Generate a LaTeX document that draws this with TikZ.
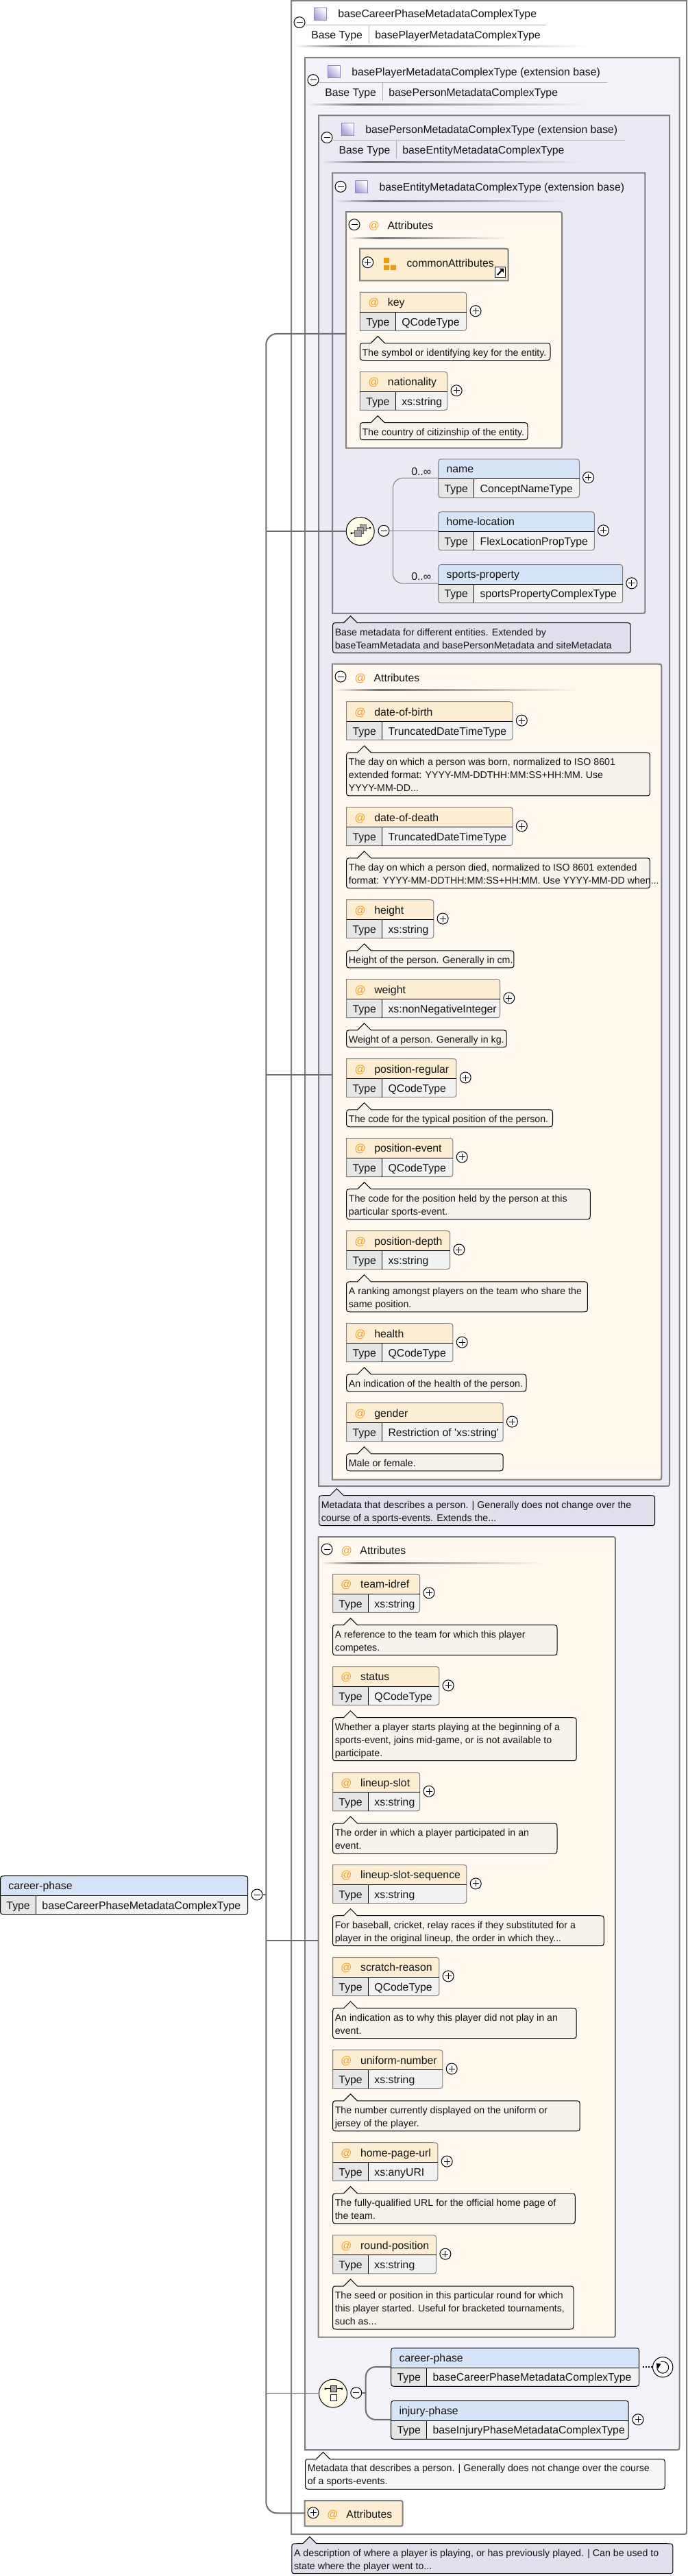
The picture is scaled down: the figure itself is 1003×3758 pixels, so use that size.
\documentclass[tikz,border=0pt]{standalone}
\usepackage{fontspec}
\setmainfont{Liberation Sans}
\definecolor{boxline}{HTML}{808080}
\definecolor{trunkc}{HTML}{6E6E6E}
\definecolor{fillB}{HTML}{F4F3FA}
\definecolor{fillC}{HTML}{EBE9F4}
\definecolor{attrbg}{HTML}{FFF9F0}
\definecolor{attrhd}{HTML}{FDEED3}
\definecolor{elemhd}{HTML}{D6E4F7}
\definecolor{typec}{HTML}{E6E6E6}
\definecolor{valc}{HTML}{F2F2F2}
\definecolor{cmtc}{HTML}{F6F3EC}
\definecolor{cmtp}{HTML}{E3DEEC}
\definecolor{cmtw}{HTML}{F8F7F8}
\definecolor{atc}{HTML}{EDA020}
\definecolor{comp}{HTML}{FFFDE8}
\definecolor{icond}{HTML}{A99FD6}
\definecolor{iconl}{HTML}{8F84BC}
\definecolor{orng}{HTML}{F09C12}
\tikzset{
  lbl/.style={font=\fontsize{11.85}{14}\selectfont,inner sep=0pt,anchor=base west,text=black!92},
  atlbl/.style={lbl,text=atc},
  cmt/.style={font=\fontsize{10.65}{14.25}\selectfont,align=left,inner sep=0pt,anchor=north west,text=black!92},
  ctl/.style={circle,draw=black,fill=white,line width=0.75pt,minimum size=12pt,inner sep=0pt},
  boxl/.style={draw=boxline,line width=1.5pt},
  trunk/.style={draw=trunkc,line width=1.5pt},
  thinl/.style={draw=boxline,line width=0.8pt},
  bracketl/.style={draw=trunkc,line width=1.5pt},
  thinb/.style={line width=0.75pt,draw=black},
  comps/.style={circle,draw=black,fill=comp,line width=0.75pt,minimum size=30.75pt,inner sep=0pt},
}
% control circle: name, x, y
\newcommand{\ctlplus}[3]{\node[ctl] (#1) at (#2,#3) {};
  \draw[thinb] (#2-4.5,#3) -- (#2+4.5,#3); \draw[thinb] (#2,#3-4.5) -- (#2,#3+4.5);}
\newcommand{\ctlminus}[3]{\node[ctl] (#1) at (#2,#3) {};
  \draw[thinb] (#2-4.5,#3) -- (#2+4.5,#3);}
% gradient rule: x1,x2,y,background
\newcommand{\shline}[4]{%
  \shade[left color=#4,right color=black!55] (#1,#3-1) rectangle ({#1+0.18*(#2-#1)},#3+1);
  \shade[left color=black!55,right color=#4] ({#1+0.18*(#2-#1)},#3-1) rectangle (#2,#3+1);}
% purple icon
\newcommand{\purple}[3]{\shade[draw=iconl,line width=0.6pt,left color=white,right color=icond,shading angle=-45] (#2,#3) rectangle (#2+18,#3+18);\coordinate (#1) at (#2+9,#3+9);}
% boxes with a rounded lower right corner: x1,y1,x2,y2,fill
\newcommand{\bigbox}[5]{\path[boxl,fill=#5] (#1,#2) -- (#3,#2) -- (#3,#4-6) .. controls (#3,#4) .. (#3-6,#4) -- (#1,#4) -- cycle;}
% both right corners rounded
\newcommand{\tabbox}[5]{\path[boxl,fill=#5] (#1,#2) -- (#3-6,#2) .. controls (#3,#2) .. (#3,#2+6) -- (#3,#4-6) .. controls (#3,#4) .. (#3-6,#4) -- (#1,#4) -- cycle;}
% comment: id,L,top,R,lines,fill,text
\newcommand{\cmtbox}[7]{%
  \pgfmathsetmacro\cb{#3+25+19*(#5-1)}%
  \path[fill=#6,draw=black,line width=0.75pt] (#2+8,#3) -- (#2+16,#3) -- (#2+26,#3-10) -- (#2+36,#3) -- (#4-8,#3) .. controls (#4,#3) .. (#4,#3+8) -- (#4,\cb-8) .. controls (#4,\cb) .. (#4-8,\cb) -- (#2+8,\cb) .. controls (#2,\cb) .. (#2,\cb-8) -- (#2,#3+8) .. controls (#2,#3) .. (#2+8,#3) -- cycle;
  \node[cmt] (#1) at (#2+3,#3+5) {\strut #7};}
% attribute: id,L,T,R,name,type,commentR,lines,text
\newcommand{\attrel}[9]{%
  \fill[attrhd] (#2,#3+29) -- (#2,#3) -- (#4-8,#3) .. controls (#4,#3) .. (#4,#3+8) -- (#4,#3+29) -- cycle;
  \fill[typec] (#2,#3+29) rectangle (#2+52,#3+56);
  \fill[valc] (#2+52,#3+29) -- (#4,#3+29) -- (#4,#3+48) .. controls (#4,#3+56) .. (#4-8,#3+56) -- (#2+52,#3+56) -- cycle;
  \draw[boxline,line width=0.75pt] (#2,#3) -- (#4-8,#3) .. controls (#4,#3) .. (#4,#3+8) -- (#4,#3+48) .. controls (#4,#3+56) .. (#4-8,#3+56) -- (#2,#3+56) -- cycle;
  \draw[thinb] (#2,#3+29) -- (#4,#3+29); \draw[thinb] (#2+52,#3+29) -- (#2+52,#3+56);
  \node[atlbl] (#1-at) at (#2+11.7,#3+20.4) {@};
  \node[lbl] (#1-name) at (#2+40.4,#3+20.4) {#5};
  \node[lbl] (#1-tl) at (#2+8.7,#3+48.7) {Type};
  \node[lbl] (#1-tv) at (#2+60.7,#3+48.7) {#6};
  \ctlplus{#1-ctl}{#4+13.3}{#3+27.4}
  \cmtbox{#1-doc}{#2}{#3+74.2}{#7}{#8}{cmtc}{#9}}
% element: id,L,T,R,name,type,border colour
\newcommand{\elemshape}[7]{%
  \fill[elemhd] (#2,#3+29) -- (#2,#3+8) .. controls (#2,#3) .. (#2+8,#3) -- (#4-8,#3) .. controls (#4,#3) .. (#4,#3+8) -- (#4,#3+29) -- cycle;
  \fill[typec] (#2,#3+29) -- (#2+52,#3+29) -- (#2+52,#3+56) -- (#2+8,#3+56) .. controls (#2,#3+56) .. (#2,#3+48) -- cycle;
  \fill[valc] (#2+52,#3+29) -- (#4,#3+29) -- (#4,#3+48) .. controls (#4,#3+56) .. (#4-8,#3+56) -- (#2+52,#3+56) -- cycle;
  \draw[#7,line width=0.75pt] (#2,#3+8) .. controls (#2,#3) .. (#2+8,#3) -- (#4-8,#3) .. controls (#4,#3) .. (#4,#3+8) -- (#4,#3+48) .. controls (#4,#3+56) .. (#4-8,#3+56) -- (#2+8,#3+56) .. controls (#2,#3+56) .. (#2,#3+48) -- cycle;
  \draw[thinb] (#2,#3+29) -- (#4,#3+29); \draw[thinb] (#2+52,#3+29) -- (#2+52,#3+56);
  \node[lbl] (#1-name) at (#2+11.7,#3+20) {#5};
  \node[lbl] (#1-tl) at (#2+8.7,#3+48.3) {Type};
  \node[lbl] (#1-tv) at (#2+60.7,#3+48.3) {#6};
  \coordinate (#1-in) at (#2,#3+27.6);}
\begin{document}
\begin{tikzpicture}[x=0.75pt,y=-0.75pt]
\useasboundingbox (0,0) rectangle (1003,3758);
\fill[white] (0,0) rectangle (1003,3758);

%% ---- outer type boxes
\bigbox{425}{1}{1002}{3697}{white}
\purple{iconA}{458.6}{11.5}
\node[lbl] (titleA) at (493,26) {baseCareerPhaseMetadataComplexType};
\draw[black!30,line width=0.75pt] (446,36.7) -- (797,36.7);
\ctlminus{ctlA}{437}{32.7}
\node[lbl] (btA) at (454,56) {Base Type};
\draw[black!30,line width=0.75pt] (538.7,37) -- (538.7,63);
\node[lbl] (bvA) at (547,56) {basePlayerMetadataComplexType};
\shline{429}{858}{67.7}{white}

\bigbox{445}{84}{991.5}{3574}{fillB}
\purple{iconB}{478.6}{95.5}
\node[lbl] (titleB) at (513,110) {basePlayerMetadataComplexType (extension base)};
\draw[black!30,line width=0.75pt] (466,120.7) -- (885.5,120.7);
\ctlminus{ctlB}{457}{116.7}
\node[lbl] (btB) at (474,140) {Base Type};
\draw[black!30,line width=0.75pt] (558.8,121) -- (558.8,147);
\node[lbl] (bvB) at (567,140) {basePersonMetadataComplexType};
\shline{449}{856.6}{152}{fillB}

\bigbox{465}{168.3}{977}{2168}{fillC}
\purple{iconC}{498.5}{179.5}
\node[lbl] (titleC) at (533,194) {basePersonMetadataComplexType (extension base)};
\draw[black!30,line width=0.75pt] (486,204.7) -- (911.8,204.7);
\ctlminus{ctlC}{477}{200.7}
\node[lbl] (btC) at (494.4,224) {Base Type};
\draw[black!30,line width=0.75pt] (578.8,205) -- (578.8,231);
\node[lbl] (bvC) at (587,224) {baseEntityMetadataComplexType};
\shline{469}{851}{236}{fillC}

\bigbox{485}{252.3}{941.4}{894.8}{fillC}
\ctlminus{ctlD}{497}{272.3}
\purple{iconD}{518.4}{263.4}
\node[lbl] (titleD) at (553.4,278) {baseEntityMetadataComplexType (extension base)};
\shline{488.6}{831.6}{293}{fillC}

%% ---- entity attributes
\tabbox{505}{309}{820}{653.7}{attrbg}
\ctlminus{ctlE}{517}{327.7}
\node[atlbl] (atE) at (537.6,334.3) {@};
\node[lbl] (titleE) at (565.3,334.3) {Attributes};
\shline{508}{743}{347}{attrbg}

\path[boxl,fill=attrhd] (525,362.7) -- (735.7,362.7) .. controls (741.7,362.7) .. (741.7,368.7) -- (741.7,409.3) -- (525,409.3) -- cycle;
\ctlplus{ctlCA}{536.7}{382.7}
\fill[orng] (560,376) rectangle (568,384) (560,386.7) rectangle (568,394) (570,386.7) rectangle (578,394);
\node[lbl] (nameCA) at (593.3,389) {commonAttributes};
\node[draw=black,fill=white,line width=0.75pt,minimum size=11.5pt,inner sep=0pt] (linkCA) at (730,396.7) {};
\draw[black,line width=1.6pt] (726,401) -- (732.5,394);
\fill[black] (735,391.5) -- (735,398) -- (728.5,391.5) -- cycle;

\attrel{key}{525.3}{426.3}{680.7}{key}{QCodeType}{803}{1}{The symbol or identifying key for the entity.}
\attrel{nat}{525.3}{542.4}{652.8}{nationality}{xs:string}{770}{1}{The country of citizinship of the entity.}

%% ---- sequence of entity
\node[comps] (seq) at (525.7,775) {};
\fill[black!35,draw=black!60,line width=0.4pt] (525,765.3) rectangle (534.4,774.7);
\fill[black!35,draw=black!60,line width=0.4pt] (521.4,769) rectangle (530.7,778);
\fill[black!35,draw=black!60,line width=0.4pt] (517.7,773) rectangle (527,782.3);
\draw[black,line width=0.75pt] (512.7,777.7) -- (517.7,777.7) (534.4,770) -- (539.4,770);
\fill[black] (511.5,776.5) rectangle (514,779) (538.8,768.8) rectangle (541.3,771.2);
\ctlminus{ctlSeq}{560}{774.3}

\elemshape{name}{639.7}{669.8}{845.5}{name}{ConceptNameType}{boxline}
\ctlplus{name-ctl}{858.6}{696.6}
\elemshape{home}{639.7}{746.7}{867.4}{home-location}{FlexLocationPropType}{boxline}
\ctlplus{home-ctl}{880.5}{773.9}
\elemshape{sport}{639.7}{823.6}{908.7}{sports-property}{sportsPropertyComplexType}{boxline}
\ctlplus{sport-ctl}{921.8}{850.8}
\node[lbl] (occName) at (600,693) {0..∞};
\node[lbl] (occSport) at (600,846.6) {0..∞};
\draw[thinl,rounded corners=11pt] (name-in) -- (573.3,697.4) -- (573.3,851.2) -- (sport-in);
\draw[thinl] (ctlSeq.east) -- (home-in);

\cmtbox{docD}{485.5}{908.6}{920.2}{2}{cmtp}{Base metadata for different entities. Extended by\\baseTeamMetadata and basePersonMetadata and siteMetadata}

%% ---- person attributes
\tabbox{484.8}{968.7}{965.3}{2158.7}{attrbg}
\ctlminus{ctlF}{497}{987}
\node[atlbl] (atF) at (517.5,994) {@};
\node[lbl] (titleF) at (545.3,994) {Attributes};
\shline{488.6}{847}{1006.9}{attrbg}

\attrel{dob}{505.6}{1023.7}{748}{date-of-birth}{TruncatedDateTimeType}{948.4}{3}{The day on which a person was born, normalized to ISO 8601\\extended format: YYYY-MM-DDTHH:MM:SS+HH:MM. Use\\YYYY-MM-DD...}
\attrel{dod}{505.6}{1177.6}{748}{date-of-death}{TruncatedDateTimeType}{948.4}{2}{The day on which a person died, normalized to ISO 8601 extended\\format: YYYY-MM-DDTHH:MM:SS+HH:MM. Use YYYY-MM-DD when...}
\attrel{hgt}{505.6}{1312.7}{632.8}{height}{xs:string}{749.9}{1}{Height of the person. Generally in cm.}
\attrel{wgt}{505.6}{1428.6}{729.5}{weight}{xs:nonNegativeInteger}{739.1}{1}{Weight of a person. Generally in kg.}
\attrel{preg}{505.6}{1544.6}{665.9}{position-regular}{QCodeType}{806.5}{1}{The code for the typical position of the person.}
\attrel{pev}{505.6}{1660.5}{660.9}{position-event}{QCodeType}{861.3}{2}{The code for the position held by the person at this\\particular sports-event.}
\attrel{pdp}{505.6}{1795.6}{656.6}{position-depth}{xs:string}{857.4}{2}{A ranking amongst players on the team who share the\\same position.}
\attrel{hlth}{505.6}{1930.7}{660.9}{health}{QCodeType}{768}{1}{An indication of the health of the person.}
\attrel{gend}{505.6}{2046.6}{734.1}{gender}{Restriction of \textquotesingle xs:string\textquotesingle}{734.1}{1}{Male or female.}

\cmtbox{docC}{465.5}{2181.7}{955.7}{2}{cmtp}{Metadata that describes a person. | Generally does not change over the\\course of a sports-events. Extends the...}

%% ---- player attributes
\tabbox{464.7}{2242}{897.9}{3409.7}{attrbg}
\ctlminus{ctlG}{477}{2260}
\node[atlbl] (atG) at (497.5,2267.7) {@};
\node[lbl] (titleG) at (525.2,2267.7) {Attributes};
\shline{468}{793}{2280}{attrbg}

\attrel{team}{485.5}{2296.4}{612.7}{team-idref}{xs:string}{813}{2}{A reference to the team for which this player\\competes.}
\attrel{stat}{485.5}{2431.5}{640.8}{status}{QCodeType}{841.2}{3}{Whether a player starts playing at the beginning of a\\sports-event, joins mid-game, or is not available to\\participate.}
\attrel{lslot}{485.5}{2585.8}{612.7}{lineup-slot}{xs:string}{813}{2}{The order in which a player participated in an\\event.}
\attrel{lseq}{485.5}{2720.5}{680.9}{lineup-slot-sequence}{xs:string}{881.3}{2}{For baseball, cricket, relay races if they substituted for a\\player in the original lineup, the order in which they...}
\attrel{scr}{485.5}{2855.5}{640.8}{scratch-reason}{QCodeType}{841.2}{2}{An indication as to why this player did not play in an\\event.}
\attrel{unif}{485.5}{2990.6}{645.9}{uniform-number}{xs:string}{846.2}{2}{The number currently displayed on the uniform or\\jersey of the player.}
\attrel{hpu}{485.5}{3125.7}{638.9}{home-page-url}{xs:anyURI}{839.3}{2}{The fully-qualified URL for the official home page of\\the team.}
\attrel{rnd}{485.5}{3260.8}{636.6}{round-position}{xs:string}{837}{3}{The seed or position in this particular round for which\\this player started. Useful for bracketed tournaments,\\such as...}

%% ---- choice of player
\node[comps] (choice) at (486,3491.7) {};
\fill[black!35,draw=black,line width=0.5pt] (482,3480.4) rectangle (491,3489);
\draw[black,line width=0.75pt] (474.5,3484.7) -- (482,3484.7) (491,3484.7) -- (498.5,3484.7);
\fill[black] (473.5,3483.5) rectangle (476,3486) (497.5,3483.5) rectangle (500,3486);
\draw[black,fill=white,line width=0.75pt] (482,3493.7) rectangle (491,3502.4);
\ctlminus{ctlCh}{519.8}{3490.7}
\elemshape{cp}{570.7}{3425.3}{932.6}{career-phase}{baseCareerPhaseMetadataComplexType}{black}
\elemshape{ip}{570.7}{3502.3}{917.2}{injury-phase}{baseInjuryPhaseMetadataComplexType}{black}
\ctlplus{ip-ctl}{931}{3529.7}
\draw[bracketl,rounded corners=11pt] (cp-in) -- (533.7,3452.9) -- (533.7,3529.9) -- (ip-in);
\draw[bracketl] (ctlCh.east) -- (533.7,3491);
\node[circle,draw=black,fill=white,line width=0.75pt,minimum size=22pt,inner sep=0pt] (rec) at (967.2,3453.3) {};
\draw[black,line width=0.75pt] (959.5,3450) arc[start angle=205,end angle=-110,radius=8.5];
\fill[black] (957.5,3447.5) -- (964.5,3448.5) -- (960,3456) -- cycle;
\coordinate (cp-out) at (937.6,3453.3);
\draw[black,line width=1.5pt,dash pattern=on 1.5pt off 1.5pt] (cp-out) -- (rec.west);

\cmtbox{docB}{445.5}{3587.3}{970.3}{2}{cmtw}{Metadata that describes a person. | Generally does not change over the course\\of a sports-events.}

%% ---- collapsed attributes
\tabbox{444.7}{3648}{587.7}{3685.3}{attrhd}
\ctlplus{ctlH}{457}{3665.7}
\node[atlbl] (atH) at (477,3673.3) {@};
\node[lbl] (titleH) at (505.2,3673.3) {Attributes};
\coordinate (attrH-in) at (444.7,3666.3);

\cmtbox{docA}{425.8}{3710.7}{981.9}{2}{cmtp}{A description of where a player is playing, or has previously played. | Can be used to\\state where the player went to...}

%% ---- root element
\elemshape{root}{0.5}{2736.7}{361.7}{career-phase}{baseCareerPhaseMetadataComplexType}{black}
\ctlminus{ctlRoot}{375}{2764}

%% ---- trunk connectors
\coordinate (attrE-in) at (505,486.9);
\coordinate (attrF-in) at (484.8,1568.3);
\coordinate (attrG-in) at (464.7,2830.6);
\coordinate (trk) at (388.3,2764);
\draw[trunk,rounded corners=12pt] (attrE-in) -- (trk |- attrE-in) -- (trk |- attrH-in) -- (attrH-in);
\draw[trunk] (ctlRoot.east) -- (trk);
\draw[trunk] (trk |- seq.west) -- (seq.west);
\draw[trunk] (trk |- attrF-in) -- (attrF-in);
\draw[trunk] (trk |- attrG-in) -- (attrG-in);
\draw[thinl] (trk |- choice.west) -- (choice.west);
\end{tikzpicture}
\end{document}
